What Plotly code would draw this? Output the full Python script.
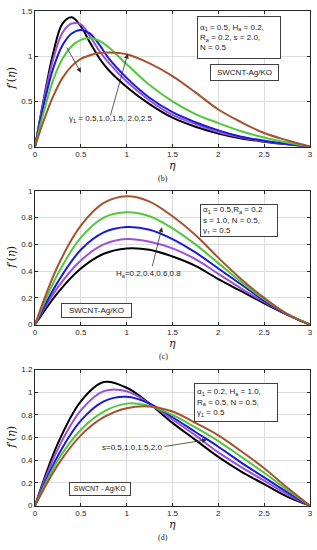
import plotly.graph_objects as go

# ---------------- data ----------------
eta_b = [0, 0.1, 0.2, 0.3, 0.4, 0.5, 0.6, 0.7, 0.8, 1.0, 1.25, 1.5, 1.75, 2.0, 2.25, 2.5, 2.75, 3.0]
b_g05 = [0, 0.55, 1.04, 1.36, 1.43, 1.33, 1.15, 0.98, 0.85, 0.66, 0.47, 0.32, 0.22, 0.145, 0.09, 0.055, 0.025, 0]
b_g10 = [0, 0.53, 0.97, 1.26, 1.36, 1.35, 1.22, 1.06, 0.93, 0.72, 0.51, 0.35, 0.25, 0.16, 0.10, 0.06, 0.028, 0]
b_g15 = [0, 0.48, 0.87, 1.12, 1.25, 1.29, 1.25, 1.13, 0.98, 0.76, 0.54, 0.38, 0.27, 0.18, 0.11, 0.065, 0.03, 0]
b_g20 = [0, 0.40, 0.74, 0.97, 1.11, 1.18, 1.20, 1.17, 1.10, 0.91, 0.68, 0.50, 0.36, 0.26, 0.17, 0.10, 0.045, 0]
b_g25 = [0, 0.30, 0.56, 0.76, 0.89, 0.97, 1.01, 1.035, 1.04, 1.02, 0.92, 0.78, 0.60, 0.41, 0.27, 0.15, 0.07, 0]

eta_c = [0, 0.25, 0.5, 0.75, 1.0, 1.25, 1.5, 1.75, 2.0, 2.25, 2.5, 2.75, 3.0]
c_1 = [0, 0.24, 0.42, 0.53, 0.57, 0.56, 0.51, 0.44, 0.34, 0.25, 0.16, 0.075, 0]
c_2 = [0, 0.28, 0.48, 0.60, 0.64, 0.62, 0.57, 0.49, 0.38, 0.27, 0.17, 0.075, 0]
c_3 = [0, 0.32, 0.56, 0.69, 0.73, 0.71, 0.64, 0.54, 0.42, 0.30, 0.18, 0.077, 0]
c_4 = [0, 0.38, 0.65, 0.80, 0.84, 0.81, 0.72, 0.60, 0.46, 0.32, 0.19, 0.08, 0]
c_5 = [0, 0.44, 0.74, 0.91, 0.96, 0.92, 0.81, 0.67, 0.50, 0.34, 0.20, 0.08, 0]

eta_d = [0, 0.25, 0.5, 0.75, 1.0, 1.25, 1.5, 1.75, 2.0, 2.25, 2.5, 2.75, 3.0]
d_1 = [0, 0.55, 0.92, 1.09, 1.04, 0.90, 0.73, 0.58, 0.43, 0.30, 0.19, 0.08, 0]
d_2 = [0, 0.50, 0.84, 1.01, 1.01, 0.90, 0.76, 0.62, 0.47, 0.34, 0.22, 0.10, 0]
d_3 = [0, 0.44, 0.75, 0.92, 0.96, 0.90, 0.78, 0.65, 0.52, 0.38, 0.25, 0.12, 0]
d_4 = [0, 0.40, 0.67, 0.83, 0.90, 0.88, 0.80, 0.69, 0.57, 0.43, 0.29, 0.14, 0]
d_5 = [0, 0.36, 0.62, 0.78, 0.86, 0.875, 0.83, 0.73, 0.62, 0.48, 0.33, 0.16, 0]

x_ticks = [0, 0.5, 1, 1.5, 2, 2.5, 3]
y_ticks_b = [0, 0.5, 1, 1.5]
y_ticks_c = [0, 0.2, 0.4, 0.6, 0.8, 1]
y_ticks_d = [0, 0.2, 0.4, 0.6, 0.8, 1, 1.2]

colors = ["#000000", "#9b4fdc", "#1a1adb", "#4fc83a", "#a4532e"]

panels = [
    ("x", "y", eta_b, [b_g05, b_g10, b_g15, b_g20, b_g25]),
    ("x2", "y2", eta_c, [c_1, c_2, c_3, c_4, c_5]),
    ("x3", "y3", eta_d, [d_1, d_2, d_3, d_4, d_5]),
]

fig = go.Figure()
for xa, ya, eta, series in panels:
    for s, col in zip(series, colors):
        fig.add_trace(go.Scatter(x=eta, y=s, mode="lines", xaxis=xa, yaxis=ya,
                                 line=dict(color=col, width=2, shape="spline", smoothing=1.0),
                                 showlegend=False, hoverinfo="skip"))

W, H = 317, 550
ML, MR = 35, 7
PW = W - ML - MR

def py(p):
    return 1 - p / H

tickfont = dict(family="Liberation Sans, Arial, sans-serif", size=8, color="#262626")
axcommon = dict(showgrid=True, gridcolor="#dcdcdc", gridwidth=1, zeroline=False,
                showline=True, linecolor="#262626", linewidth=1, mirror="ticks",
                ticks="inside", ticklen=3, tickcolor="#262626", tickfont=tickfont)
xcommon = dict(range=[0, 3], tickvals=x_ticks, ticklabeloverflow="allow", domain=[0, 1], **axcommon)

fig.update_layout(
    width=W, height=H, margin=dict(l=ML, r=MR, t=0, b=0),
    paper_bgcolor="white", plot_bgcolor="white",
    xaxis=dict(anchor="y", **xcommon),
    yaxis=dict(domain=[py(145), py(7)], range=[0, 1.5], tickvals=y_ticks_b, anchor="x", **axcommon),
    xaxis2=dict(anchor="y2", **xcommon),
    yaxis2=dict(domain=[py(326), py(190)], range=[0, 1], tickvals=y_ticks_c, anchor="x2", **axcommon),
    xaxis3=dict(anchor="y3", **xcommon),
    yaxis3=dict(domain=[py(510), py(371.7)], range=[0, 1.2], tickvals=y_ticks_d, anchor="x3", **axcommon),
)

txtfont = dict(family="Liberation Sans, Arial, sans-serif", size=8, color="#1a1a1a")
ann = []

def box(xr, yr, x, y, text, w, h, xanchor="left", yanchor="top", align="left", size=8):
    ann.append(dict(xref=xr, yref=yr, x=x, y=y, text=text, showarrow=False,
                    xanchor=xanchor, yanchor=yanchor, align=align,
                    font=dict(txtfont, size=size),
                    bordercolor="#404040", borderwidth=1, borderpad=2, bgcolor="white",
                    width=w, height=h))

def arrow(xr, yr, x0, y0, x1, y1):
    ann.append(dict(xref=xr, yref=yr, axref=xr, ayref=yr, x=x1, y=y1, ax=x0, ay=y0,
                    text="", showarrow=True, arrowhead=2, arrowsize=1.2, arrowwidth=0.8,
                    arrowcolor="#333333", standoff=0))

def label(xr, yr, x, y, text, **kw):
    ann.append(dict(xref=xr, yref=yr, x=x, y=y, text=text, showarrow=False, font=txtfont, **kw))

# panel (b)
box("x", "y", 1.77, 1.44,
    "α<sub>1</sub> = 0.5, H<sub>a</sub> = 0.2,<br>R<sub>a</sub> = 0.2, s = 2.0,<br>N = 0.5", 78, 37)
box("x", "y", 2.28, 0.817, "SWCNT-Ag/KO", 63, 11, xanchor="center", yanchor="middle", align="center")
arrow("x", "y", 0.338, 1.111, 0.502, 0.817)
arrow("x", "y", 0.818, 0.327, 1.011, 1.027)
label("x", "y", 0.83, 0.305, "γ<sub>1</sub> = 0.5,1.0,1.5, 2.0,2.5")

# panel (c)
box("x2", "y2", 1.80, 0.904,
    "α<sub>1</sub> = 0.5,R<sub>a</sub> = 0.2<br>s = 1.0, N = 0.5,<br>γ<sub>1</sub> = 0.5", 72, 27)
box("x2", "y2", 0.676, 0.107, "SWCNT-Ag/KO", 65, 9, xanchor="center", yanchor="middle", align="center")
arrow("x2", "y2", 1.276, 0.426, 1.385, 0.728)
label("x2", "y2", 1.238, 0.382, "H<sub>a</sub>=0.2,0.4,0.6,0.8")

# panel (d)
box("x3", "y3", 1.734, 1.085,
    "α<sub>1</sub> = 0.2, H<sub>a</sub> = 1.0,<br>R<sub>a</sub> = 0.5, N = 0.5,<br>γ<sub>1</sub> = 0.5", 78, 33)
box("x3", "y3", 0.709, 0.147, "SWCNT - Ag/KO", 56, 8, xanchor="center", yanchor="middle",
    align="center", size=7)
arrow("x3", "y3", 1.396, 0.52, 1.876, 0.581)
label("x3", "y3", 1.053, 0.512, "s=0.5,1.0,1.5,2.0")

# axis titles and panel labels
titlefont = dict(family="DejaVu Serif, Liberation Serif, serif", size=11, color="#1a1a1a")
for ytitle_center, xtitle_y, lab, lab_y in [((145 + 7) / 2, 164, "(b)", 177),
                                             ((326 + 190) / 2, 345, "(c)", 358),
                                             ((510 + 372) / 2, 529, "(d)", 542)]:
    ann.append(dict(xref="paper", yref="paper", x=(12 - ML) / PW, y=py(ytitle_center),
                    text="<i>f</i>′(<i>η</i>)", showarrow=False, textangle=-90,
                    xanchor="center", yanchor="middle", font=titlefont))
    ann.append(dict(xref="paper", yref="paper", x=0.5, y=py(xtitle_y), text="<i>η</i>",
                    showarrow=False, xanchor="center", yanchor="middle", font=titlefont))
    ann.append(dict(xref="paper", yref="paper", x=(163 - ML) / PW, y=py(lab_y), text=lab,
                    showarrow=False, xanchor="center", yanchor="middle",
                    font=dict(family="Liberation Serif, Times New Roman, serif", size=8, color="#1a1a1a")))

fig.update_layout(annotations=ann)
fig.write_html("out.html", config={"displayModeBar": False},
               post_script="document.body.style.margin='0';document.body.style.padding='0';")
